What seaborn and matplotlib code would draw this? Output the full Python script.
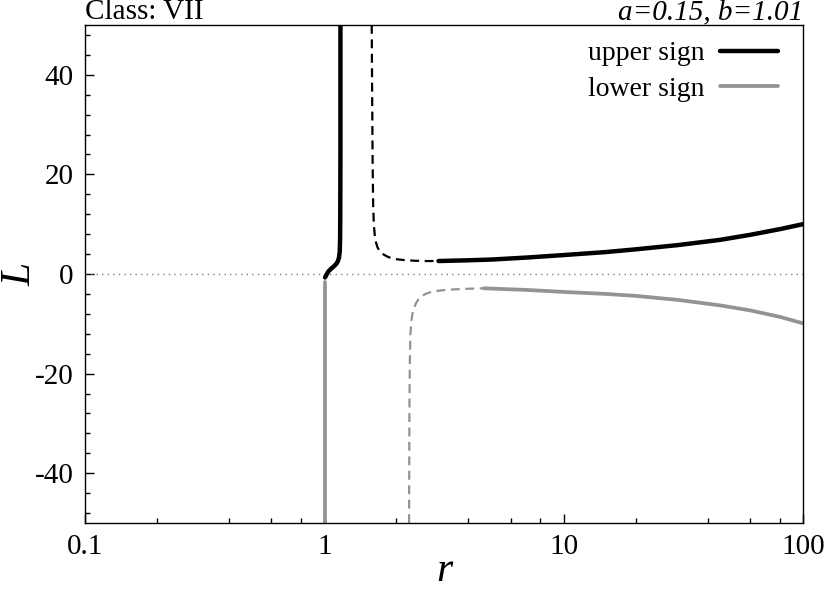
import numpy as np
import matplotlib
matplotlib.use("Agg")
import matplotlib.pyplot as plt
import seaborn as sns
from matplotlib.lines import Line2D
from matplotlib.ticker import FixedLocator, NullFormatter

# upper sign, inner solid branch (near r=1)
r_up_in = [1.007, 1.02, 1.04, 1.07, 1.10, 1.125, 1.14, 1.152, 1.16, 1.164, 1.166, 1.168, 1.168]
L_up_in = [-0.7, -0.2, 0.5, 1.1, 1.6, 2.1, 2.6, 3.3, 4.5, 7.0, 12.0, 25.0, 50.0]
# upper sign, dashed branch
r_up_dash = [1.578, 1.585, 1.592, 1.60, 1.61, 1.625, 1.645, 1.67, 1.71, 1.77, 1.85, 1.97, 2.15, 2.4, 2.7, 3.0]
L_up_dash = [50.0, 35.0, 22.0, 14.0, 10.0, 7.8, 6.3, 5.3, 4.5, 3.9, 3.4, 3.0, 2.8, 2.65, 2.6, 2.6]
# upper sign, outer solid branch
r_up_out = [3.0, 4.0, 5.0, 7.0, 10.0, 15.0, 20.0, 30.0, 45.0, 60.0, 80.0, 100.0]
L_up_out = [2.6, 2.75, 2.9, 3.3, 3.8, 4.4, 4.95, 5.8, 6.85, 7.85, 9.0, 10.0]

# lower sign, inner solid branch
r_lo_in = [1.007, 1.007]
L_lo_in = [-1.6, -50.0]
# lower sign, dashed branch
r_lo_dash = [2.26, 2.265, 2.27, 2.28, 2.29, 2.31, 2.335, 2.37, 2.42, 2.48, 2.56, 2.66, 2.8, 3.0, 3.3, 3.8, 4.64]
L_lo_dash = [-50.0, -35.0, -24.0, -16.0, -12.0, -9.5, -8.0, -6.8, -5.8, -5.0, -4.4, -3.95, -3.6, -3.35, -3.15, -3.0, -2.87]
# lower sign, outer solid branch
r_lo_out = [4.64, 7.0, 10.0, 15.0, 20.0, 30.0, 45.0, 60.0, 80.0, 100.0]
L_lo_out = [-2.87, -3.2, -3.6, -4.0, -4.4, -5.2, -6.3, -7.3, -8.6, -9.9]

sns.set_style("ticks")
plt.rcParams['font.family'] = ['Liberation Serif', 'DejaVu Serif']
plt.rcParams['axes.unicode_minus'] = False
plt.rcParams['xtick.direction'] = 'in'
plt.rcParams['ytick.direction'] = 'in'
plt.rcParams['text.color'] = 'black'
plt.rcParams['axes.labelcolor'] = 'black'
plt.rcParams['xtick.labelcolor'] = 'black'
plt.rcParams['ytick.labelcolor'] = 'black'

black = 'black'
grey = '#939393'

fig = plt.figure(figsize=(8.29, 5.91), dpi=100)
ax = fig.add_axes([0.1025, 0.115, 0.8661, 0.8428])

ax.axhline(0, color='#808080', lw=1.0, ls=(0, (1, 3)))

sns.lineplot(x=r_up_in, y=L_up_in, ax=ax, sort=False, estimator=None, color=black, lw=3.2)
sns.lineplot(x=r_up_dash, y=L_up_dash, ax=ax, sort=False, estimator=None, color=black, lw=1.6,
             linestyle=(0, (4, 2.5)))
sns.lineplot(x=r_up_out, y=L_up_out, ax=ax, sort=False, estimator=None, color=black, lw=3.2)

sns.lineplot(x=r_lo_in, y=L_lo_in, ax=ax, sort=False, estimator=None, color=grey, lw=2.7)
sns.lineplot(x=r_lo_dash, y=L_lo_dash, ax=ax, sort=False, estimator=None, color=grey, lw=1.6,
             linestyle=(0, (4, 2.5)))
sns.lineplot(x=r_lo_out, y=L_lo_out, ax=ax, sort=False, estimator=None, color=grey, lw=2.7)

ax.set_xscale('log')
ax.set_xlim(0.1, 100)
ax.set_ylim(-50, 50)
ax.set_xticks([0.1, 1, 10, 100])
ax.set_xticklabels(['0.1', '1', '10', '100'])
ax.xaxis.set_minor_locator(FixedLocator([m * d for d in [0.1, 1, 10] for m in [2, 4, 6, 8]]))
ax.xaxis.set_minor_formatter(NullFormatter())
ax.set_yticks([-40, -20, 0, 20, 40])
ax.yaxis.set_minor_locator(FixedLocator([v for v in range(-48, 50, 4) if v % 20 != 0]))

ax.tick_params(which='major', length=6.5, width=1.0, labelsize=21, color='black', pad=8)
ax.tick_params(which='minor', length=3.6, width=1.0, color='black')
ax.tick_params(top=False, right=False, which='both')
for s in ax.spines.values():
    s.set_linewidth(1.0)
    s.set_color('black')

ax.set_xlabel('r', fontsize=30, style='italic', labelpad=-6)
ax.set_ylabel('L', fontsize=30, style='italic', labelpad=-3)
ax.set_title('Class: VII', loc='left', fontsize=21, pad=3)
ax.set_title('a=0.15, b=1.01', loc='right', fontsize=21, pad=3, style='italic')

handles = [Line2D([], [], color=black, lw=3.2), Line2D([], [], color=grey, lw=2.7)]
ax.legend(handles, ['upper sign', 'lower sign'], loc='upper right', frameon=False,
          markerfirst=False, fontsize=20, handlelength=2.1, handletextpad=0.55,
          labelspacing=0.35, borderpad=0.0, borderaxespad=0.0,
          bbox_to_anchor=(1 - 25 / 718, 1 - 16 / 498))

fig.savefig('out.png', dpi=100)
